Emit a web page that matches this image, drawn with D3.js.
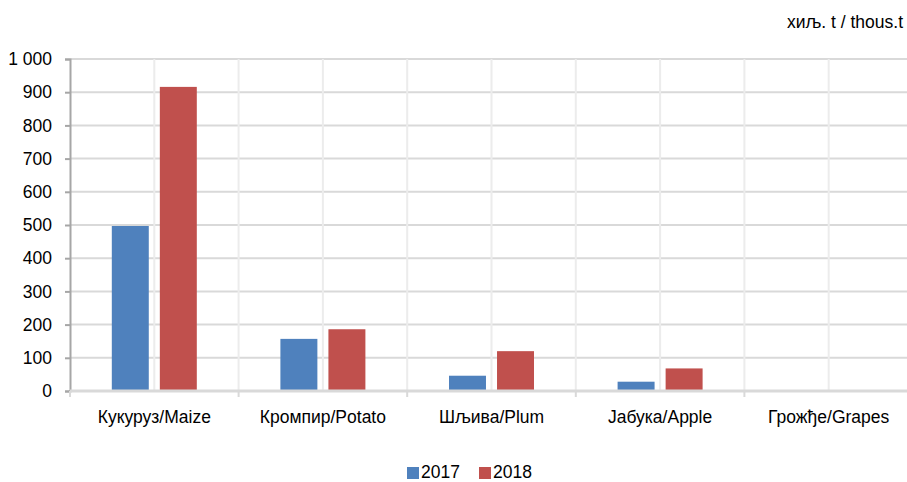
<!DOCTYPE html>
<html>
<head>
<meta charset="utf-8">
<script src="https://cdn.jsdelivr.net/npm/d3@7"></script>
<style>
  body { margin: 0; background: #fff; }
  svg { display: block; font-family: "Liberation Sans", Arial, sans-serif; }
</style>
</head>
<body>
<svg id="chart" width="907" height="482"></svg>
<script>
// data (thousand tonnes)
const categories = ["Кукуруз/Maize", "Кромпир/Potato", "Шљива/Plum", "Јабука/Apple", "Грожђе/Grapes"];
const years = ["2017", "2018"];
const values2017 = [497, 157, 46, 28, null];
const values2018 = [916, 186, 120, 68, null];
const yTicks = [0, 100, 200, 300, 400, 500, 600, 700, 800, 900, 1000];
const colors = ["#4f81bd", "#c0504d"];

const svg = d3.select("#chart");
const plotLeft = 70, plotRight = 913, plotTop = 59, plotBottom = 391;
const fs = 17.5;

const x = d3.scaleBand().domain(categories).range([plotLeft, plotRight]);
const y = d3.scaleLinear().domain([0, 1000]).range([plotBottom, plotTop]);
const sub = d3.scaleBand().domain(years).range([0, 85]).paddingInner(0.23);

const fmt = d => d3.format(",")(d).replace(",", " ");

// horizontal grid
svg.append("g").selectAll("line").data(yTicks.filter(d => d > 0)).join("line")
  .attr("x1", plotLeft).attr("x2", plotRight)
  .attr("y1", d => y(d)).attr("y2", d => y(d))
  .attr("stroke", "#d9d9d9").attr("stroke-width", 2);

// vertical grid: category boundaries and centres
const vlines = [];
categories.forEach(c => { vlines.push(x(c)); vlines.push(x(c) + x.bandwidth() / 2); });
vlines.push(plotRight);
svg.append("g").selectAll("line").data(vlines.filter(v => v > plotLeft)).join("line")
  .attr("x1", d => d).attr("x2", d => d)
  .attr("y1", plotTop).attr("y2", plotBottom)
  .attr("stroke", "#ececec").attr("stroke-width", 2);

// bars
const rows = categories.map((c, i) => ({ c, vals: [values2017[i], values2018[i]] }));
const groups = svg.append("g").selectAll("g").data(rows).join("g")
  .attr("transform", d => `translate(${x(d.c) + x.bandwidth() / 2 - 42.5},0)`);
groups.selectAll("rect")
  .data(d => d.vals.map((v, k) => ({ v, k })).filter(e => e.v != null))
  .join("rect")
  .attr("x", e => sub(years[e.k]))
  .attr("width", sub.bandwidth())
  .attr("y", e => y(e.v))
  .attr("height", e => y(0) - y(e.v))
  .attr("fill", e => colors[e.k]);

// y axis
const yAxis = svg.append("g").attr("transform", `translate(${plotLeft},0)`)
  .call(d3.axisLeft(y).tickValues(yTicks).tickFormat(fmt).tickSize(5).tickPadding(13));
yAxis.select(".domain").attr("stroke", "#a6a6a6").attr("stroke-width", 2);
yAxis.selectAll(".tick line").attr("stroke", "#a6a6a6").attr("stroke-width", 2);
yAxis.selectAll("text").attr("font-size", fs).attr("fill", "#000")
  .style("font-family", "'Liberation Sans', Arial, sans-serif");

// x axis
svg.append("line").attr("x1", plotLeft).attr("x2", plotRight)
  .attr("y1", plotBottom).attr("y2", plotBottom)
  .attr("stroke", "#d9d9d9").attr("stroke-width", 3);
svg.append("g").selectAll("line").data(categories.map(c => x(c)).concat([plotRight])).join("line")
  .attr("x1", d => d).attr("x2", d => d)
  .attr("y1", plotBottom).attr("y2", plotBottom + 6)
  .attr("stroke", "#d9d9d9").attr("stroke-width", 2);
svg.append("g").selectAll("text").data(categories).join("text")
  .attr("x", d => x(d) + x.bandwidth() / 2)
  .attr("y", 423)
  .attr("text-anchor", "middle")
  .attr("font-size", fs)
  .text(d => d);

// unit label
svg.append("text").attr("x", 903).attr("y", 28).attr("text-anchor", "end")
  .attr("font-size", fs).text("хиљ. t / thous.t");

// legend
const legend = svg.append("g");
const lx = [407, 479];
years.forEach((yr, k) => {
  legend.append("rect").attr("x", lx[k]).attr("y", 467).attr("width", 12).attr("height", 12)
    .attr("fill", colors[k]);
  legend.append("text").attr("x", lx[k] + 14).attr("y", 478)
    .attr("font-size", fs).text(yr);
});
</script>
</body>
</html>
